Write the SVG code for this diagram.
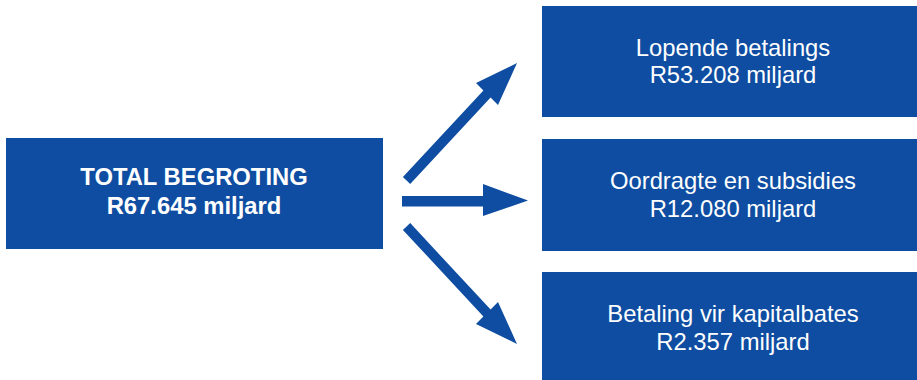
<svg xmlns="http://www.w3.org/2000/svg" width="917" height="380" viewBox="0 0 917 380">
<style>
.box{fill:#0E4DA1}
.arrow{fill:#0E4DA1}
text{font-family:"Liberation Sans",Arial,sans-serif;font-size:23.8px;fill:#FFFFFF;text-anchor:middle}
.bold{font-weight:bold}
</style>
<rect width="917" height="380" fill="#FFFFFF"/>
<g id="node-total">
<rect class="box" x="6" y="138" width="377" height="111"/>
<text class="bold" x="194" y="185">TOTAL BEGROTING</text>
<text class="bold" x="194" y="214">R67.645 miljard</text>
</g>
<g id="node-lopende">
<rect class="box" x="542" y="6" width="375" height="111"/>
<text x="733" y="56">Lopende betalings</text>
<text x="733" y="83">R53.208 miljard</text>
</g>
<g id="node-oordragte">
<rect class="box" x="542" y="139" width="375" height="112"/>
<text x="733" y="189">Oordragte en subsidies</text>
<text x="733" y="217">R12.080 miljard</text>
</g>
<g id="node-betaling">
<rect class="box" x="542" y="272" width="375" height="108"/>
<text x="733" y="322">Betaling vir kapitalbates</text>
<text x="733" y="350">R2.357 miljard</text>
</g>
<g id="connectors">
<polygon class="arrow" points="402.9,177.1 483.4,90.6 476,83 517,63 498,105 490.6,97.4 410.2,183.9"/>
<polygon class="arrow" points="402,196 483,196 483,184 528,200.5 483,216 483,206.5 402,206.5"/>
<polygon class="arrow" points="402.9,229.9 483.4,316.4 476,324 517,344 498,302 490.6,309.6 410.2,223.1"/>
</g>
</svg>
